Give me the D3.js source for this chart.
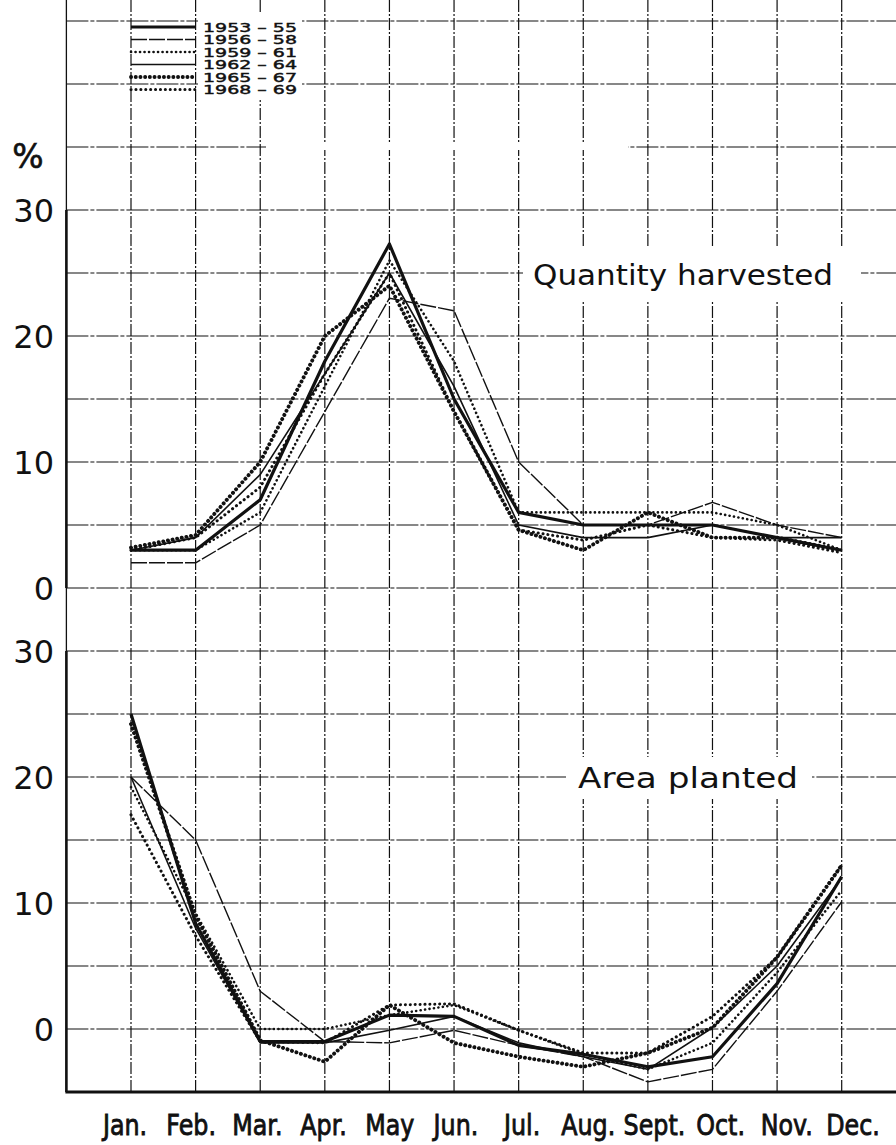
<!DOCTYPE html>
<html><head><meta charset="utf-8">
<script src="https://cdn.jsdelivr.net/npm/d3@7"></script>
<style>html,body{margin:0;padding:0;background:#fff}svg{display:block}</style>
</head><body>
<script>
const months = ["Jan.","Feb.","Mar.","Apr.","May","Jun.","Jul.","Aug.","Sept.","Oct.","Nov.","Dec."];
const periods = ["1953 – 55","1956 – 58","1959 – 61","1962 – 64","1965 – 67","1968 – 69"];
const yTicksTop = [0,10,20,30];
const yTicksBottom = [0,10,20,30];

// Quantity harvested (% of annual total)
const harv_1953_55 = [3,3,7,18,27.3,15,6,5,5,5,4,3];
const harv_1956_58 = [2,2,5,14,23,22,10,5,5,6.8,5,4];
const harv_1959_61 = [3,3,6,16,26,18,6,6,6,6,5,3];
const harv_1962_64 = [3,4,9,17,25,16,5,4,4,5,4,4];
const harv_1965_67 = [3.2,4.2,10,20,24,14,4.6,3,6,4,4,3];
const harv_1968_69 = [3,4,8,17,25,14,4.6,3.8,5,4,3.8,2.8];

// Area planted (% of annual total)
const plant_1953_55 = [25,8.4,-1,-1,1.1,1,-1.3,-2,-3,-2.2,3.6,12.1];
const plant_1956_58 = [20,15,3,-1,-1.1,-0.1,-1.3,-2.2,-4.2,-3.2,3,10.1];
const plant_1959_61 = [19.2,9.2,0,0,1.1,1.9,-0.1,-2,-3.2,-1.1,4.5,11];
const plant_1962_64 = [20,8,-1.1,-1.1,-0.1,1,-1.1,-2.2,-3.2,0.1,5,12];
const plant_1965_67 = [24.2,9,-0.9,-2.6,1.9,-1.1,-2.2,-3,-1.9,0.1,5.7,13];
const plant_1968_69 = [17,7.4,-1,-1.1,1.9,2,-0.1,-1.9,-1.9,1,5.7,13];

const harvested = [harv_1953_55,harv_1956_58,harv_1959_61,harv_1962_64,harv_1965_67,harv_1968_69];
const planted = [plant_1953_55,plant_1956_58,plant_1959_61,plant_1962_64,plant_1965_67,plant_1968_69];

const styles = [
  {w:3.2, dash:null, cap:"butt"},
  {w:1.4, dash:"16,2", cap:"butt"},
  {w:2.6, dash:"0.1,4.4", cap:"round"},
  {w:1.6, dash:null, cap:"butt"},
  {w:3.9, dash:"0.1,4.6", cap:"round"},
  {w:3.0, dash:"0.1,4.8", cap:"round"}
];

const W = 896, H = 1145;
const svg = d3.select("body").append("svg").attr("width",W).attr("height",H);
svg.append("rect").attr("width",W).attr("height",H).attr("fill","#fff");

const x = d3.scaleLinear().domain([0,11]).range([131,841.7]);
const xLabel = d3.scaleLinear().domain([0,11]).range([125,853]);
const yTop = d3.scaleLinear().domain([0,30]).range([588,210]);
const yBot = d3.scaleLinear().domain([0,30]).range([1029,651]);
const bottomY = yBot(-5);

const grid = svg.append("g").attr("stroke","#111").attr("fill","none");
d3.range(0,50,5).forEach(v=>{
  grid.append("line").attr("x1",x(-1)).attr("x2",W).attr("y1",yTop(v)).attr("y2",yTop(v))
    .attr("stroke-width",1.2).attr("stroke-dasharray","22,2,4,2");
});
d3.range(-5,35,5).forEach(v=>{
  grid.append("line").attr("x1",x(-1)).attr("x2",W).attr("y1",yBot(v)).attr("y2",yBot(v))
    .attr("stroke-width",1.2).attr("stroke-dasharray","22,2,4,2");
});
d3.range(0,12).forEach(i=>{
  grid.append("line").attr("x1",x(i)).attr("x2",x(i)).attr("y1",0).attr("y2",bottomY)
    .attr("stroke-width",1.2).attr("stroke-dasharray","12,2,2,2");
});
grid.append("line").attr("x1",x(-1)).attr("x2",x(-1)).attr("y1",0).attr("y2",bottomY).attr("stroke-width",1.3);
grid.append("line").attr("x1",x(-1)).attr("x2",x(-1)).attr("y1",yTop(30)).attr("y2",yTop(0)).attr("stroke-width",2.6);
grid.append("line").attr("x1",x(-1)).attr("x2",x(-1)).attr("y1",yBot(30)).attr("y2",bottomY).attr("stroke-width",2.6);
grid.append("line").attr("x1",x(-1)-1).attr("x2",W).attr("y1",bottomY).attr("y2",bottomY).attr("stroke-width",3);

// white masks behind labels / blank areas
svg.append("rect").attr("x",198).attr("y",12).attr("width",104).attr("height",88).attr("fill","#fff");
svg.append("rect").attr("x",266).attr("y",yTop(35)-3).attr("width",362).attr("height",6).attr("fill","#fff");
svg.append("rect").attr("x",523).attr("y",246).attr("width",338).attr("height",56).attr("fill","#fff");
svg.append("rect").attr("x",566).attr("y",757).attr("width",246).attr("height",42).attr("fill","#fff");

const line = (ys)=>d3.line().x((d,i)=>x(i)).y(d=>ys(d));
function drawSeries(data, ys){
  const g = svg.append("g").attr("fill","none").attr("stroke","#111").attr("stroke-linejoin","round");
  data.forEach((s,k)=>{
    const st = styles[k];
    const p = g.append("path").attr("d",line(ys)(s)).attr("stroke-width",st.w).attr("stroke-linecap",st.cap);
    if(st.dash) p.attr("stroke-dasharray",st.dash);
  });
}
drawSeries(harvested, yTop);
drawSeries(planted, yBot);

// legend
const lg = svg.append("g");
periods.forEach((p,k)=>{
  const yy = 27 + k*12.5;
  const st = styles[k];
  const l = lg.append("line").attr("x1",x(0)).attr("x2",x(1)).attr("y1",yy).attr("y2",yy)
    .attr("stroke","#111").attr("stroke-width",st.w).attr("stroke-linecap",st.cap);
  if(st.dash) l.attr("stroke-dasharray",st.dash);
  lg.append("text").attr("x",203).attr("y",yy+4.5).text(p)
    .attr("font-family","'DejaVu Sans',sans-serif").attr("font-size",13)
    .attr("stroke","#111").attr("stroke-width",0.45)
    .attr("textLength",94).attr("lengthAdjust","spacingAndGlyphs").attr("fill","#111");
});

// axis labels
const tf = "'DejaVu Sans',sans-serif";
yTicksTop.forEach(v=>{
  svg.append("text").attr("x",54).attr("y",yTop(v)).attr("dy","0.36em").attr("text-anchor","end")
    .attr("font-family",tf).attr("font-size",32).attr("fill","#111").text(v);
});
yTicksBottom.forEach(v=>{
  svg.append("text").attr("x",54).attr("y",yBot(v)).attr("dy","0.36em").attr("text-anchor","end")
    .attr("font-family",tf).attr("font-size",32).attr("fill","#111").text(v);
});
svg.append("text").attr("x",28).attr("y",168).attr("text-anchor","middle")
  .attr("font-family",tf).attr("font-size",33).attr("stroke","#111").attr("stroke-width",0.6)
  .attr("fill","#111").text("%");

svg.append("text").attr("x",533).attr("y",285).attr("font-family",tf).attr("font-size",29)
  .attr("textLength",300).attr("lengthAdjust","spacingAndGlyphs").attr("fill","#111").text("Quantity harvested");
svg.append("text").attr("x",578).attr("y",788).attr("font-family",tf).attr("font-size",29)
  .attr("textLength",220).attr("lengthAdjust","spacingAndGlyphs").attr("fill","#111").text("Area planted");

// month labels
months.forEach((m,i)=>{
  const t = svg.append("text").attr("x",xLabel(i)).attr("y",1135).attr("text-anchor","middle")
    .attr("font-family",tf).attr("font-size",29)
    .attr("stroke","#111").attr("stroke-width",0.9)
    .attr("fill","#111").text(m);
  const nat = t.node().getComputedTextLength();
  t.attr("textLength",nat*0.82).attr("lengthAdjust","spacingAndGlyphs");
});
</script>
</body></html>
